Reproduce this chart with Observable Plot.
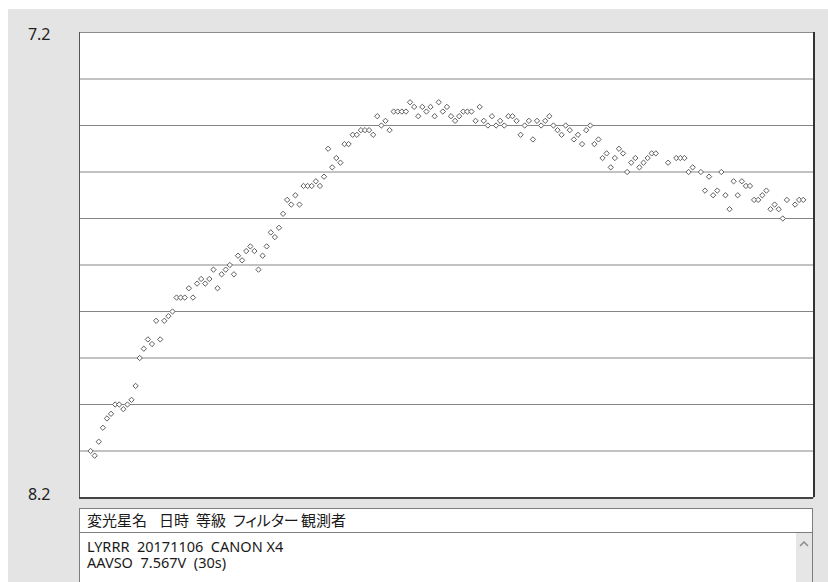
<!DOCTYPE html>
<html><head><meta charset="utf-8">
<script src="https://cdn.jsdelivr.net/npm/d3@7"></script>
<script src="https://cdn.jsdelivr.net/npm/@observablehq/plot@0.6"></script>
<style>
html,body{margin:0;padding:0;background:#fff;width:828px;height:582px;overflow:hidden;}
#panel{position:absolute;left:8px;top:9px;right:0;bottom:0;background:#e4e4e4;}
#chart{position:absolute;left:0;top:0;}
#hdr{position:absolute;left:79px;top:508px;width:734px;height:25px;box-sizing:border-box;background:#fff;border:1px solid #7d7d7d;font-family:"Noto Sans CJK JP","Noto Sans",sans-serif;font-size:15px;color:#1a1a1a;font-feature-settings:"palt";}
#hdr span{position:absolute;top:1px;line-height:20px;white-space:nowrap;}
#body{position:absolute;left:79px;top:532px;width:734px;height:60px;box-sizing:border-box;background:#fff;border:1px solid #7d7d7d;font-family:"Noto Sans",sans-serif;font-size:14.5px;color:#1a1a1a;}
#info{position:absolute;left:7px;top:5px;white-space:pre;line-height:16px;}
#scroll{position:absolute;right:0;top:0;width:16px;height:100%;background:#e6e6e6;}
</style></head>
<body>
<div id="panel"></div>
<div id="chart"></div>
<div id="hdr"></div>
<div id="body"><div id="info"></div><div id="scroll"><svg width="16" height="20"><polyline points="4,13 8,9 12,13" fill="none" stroke="#8a8a8a" stroke-width="1.5"/></svg></div></div>
<script>
// Magnitudes per frame (null = no observation in that frame)
const mags = [
 8.10, 8.11, 8.08, 8.05, 8.03, 8.02, 8.00, 8.00, 8.01, 8.00,
 7.99, 7.96, 7.90, 7.88, 7.86, 7.87, 7.82, 7.86, 7.82, 7.81,
 7.80, 7.77, 7.77, 7.77, 7.75, 7.77, 7.74, 7.73, 7.74, 7.73,
 7.71, 7.75, 7.72, 7.71, 7.70, 7.72, 7.68, 7.69, 7.67, 7.66,
 7.67, 7.71, 7.68, 7.66, 7.63, 7.64, 7.62, 7.59, 7.56, 7.57,
 7.55, 7.57, 7.53, 7.53, 7.53, 7.52, 7.53, 7.51, 7.45, 7.49,
 7.47, 7.48, 7.44, 7.44, 7.42, 7.42, 7.41, 7.41, 7.41, 7.42,
 7.38, 7.40, 7.39, 7.41, 7.37, 7.37, 7.37, 7.37, 7.35, 7.36,
 7.38, 7.36, 7.37, 7.36, 7.38, 7.35, 7.37, 7.36, 7.38, 7.39,
 7.38, 7.37, 7.37, 7.37, 7.39, 7.36, 7.39, 7.40, 7.38, 7.40,
 7.39, 7.40, 7.38, 7.38, 7.39, 7.42, 7.40, 7.39, 7.43, 7.39,
 7.40, 7.39, 7.38, 7.40, 7.41, 7.42, 7.40, 7.41, 7.43, 7.42,
 7.44, 7.41, 7.40, 7.44, 7.43, 7.47, 7.46, 7.49, 7.47, 7.45,
 7.46, 7.50, 7.48, 7.47, 7.49, 7.48, 7.47, 7.46, 7.46, null,
 null, 7.48, null, 7.47, 7.47, 7.47, 7.50, 7.49, null, 7.50,
 7.54, 7.51, 7.55, 7.54, 7.50, 7.55, 7.58, 7.52, 7.55, 7.52,
 7.53, 7.53, 7.56, 7.56, 7.55, 7.54, 7.58, 7.57, 7.58, 7.60,
 7.56, null, 7.57, 7.56, 7.56
];
const yTickLabels = [7.2, 8.2];
const gridMags = [7.3, 7.4, 7.5, 7.6, 7.7, 7.8, 7.9, 8.0, 8.1];
const headerLabels = ["変光星名", "日時", "等級", "フィルター", "観測者"];
const infoLines = ["LYRRR  20171106  CANON X4", "AAVSO  7.567V  (30s)"];

const xDomain = [-2.7, 176.5];
const points = mags.map((m, i) => ({frame: i, mag: m})).filter(d => d.mag != null);

const chart = Plot.plot({
  width: 828, height: 512,
  marginLeft: 79, marginRight: 15, marginTop: 32, marginBottom: 15,
  style: {background: "transparent", fontFamily: "Noto Sans, sans-serif"},
  x: {domain: xDomain, axis: null},
  y: {domain: [7.2, 8.2], reverse: true, axis: null},
  marks: [
    Plot.frame({fill: "white", stroke: "#8c8c8c"}),
    Plot.ruleY(gridMags, {stroke: "#858585"}),
    Plot.ruleX([xDomain[0]], {stroke: "#555"}),
    Plot.ruleY([8.2], {stroke: "#444", strokeWidth: 2, dy: 0.5}),
    Plot.ruleX([xDomain[1]], {stroke: "#333", strokeWidth: 2, dx: 0.5}),
    Plot.dot(points, {x: "frame", y: "mag", symbol: "diamond2", r: 2.4, stroke: "#5e5e5e", strokeWidth: 1, fill: "white"}),
    Plot.text([yTickLabels[0]], {y: d => d, text: d => d.toFixed(1), frameAnchor: "left", textAnchor: "end", dx: -29, dy: 2, fontSize: 16, fill: "#222"}),
    Plot.text([yTickLabels[1]], {y: d => d, text: d => d.toFixed(1), frameAnchor: "left", textAnchor: "end", dx: -29, dy: -3, fontSize: 16, fill: "#222"})
  ]
});
document.getElementById("chart").appendChild(chart);

const hdr = document.getElementById("hdr");
const hdrLeft = [7, 79, 116, 153, 221];
headerLabels.forEach((t, i) => {
  const s = document.createElement("span");
  s.textContent = t;
  s.style.left = hdrLeft[i] + "px";
  hdr.appendChild(s);
});
document.getElementById("info").textContent = infoLines.join("\n");
</script>
</body></html>
